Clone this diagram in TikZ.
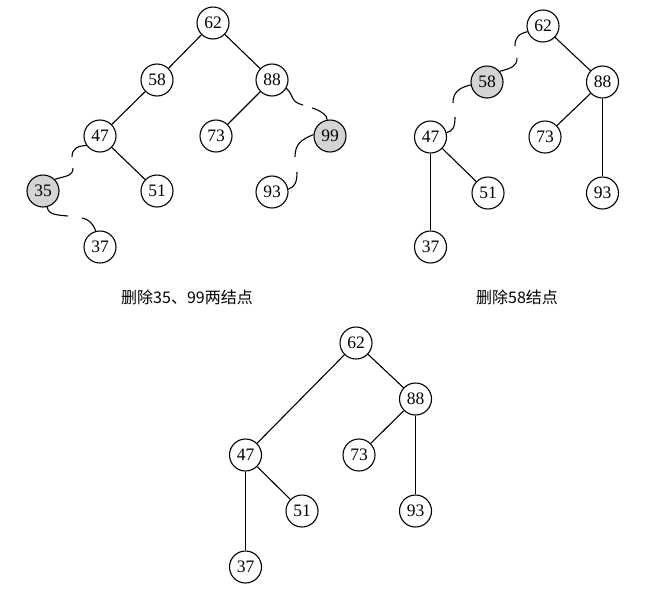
\documentclass[tikz,border=0pt]{standalone}
\usepackage{fontspec}
\setmainfont{Liberation Serif}
\newfontfamily\cjk{Noto Sans CJK SC}
\begin{document}
\begin{tikzpicture}[x=1pt,y=-1pt,
  nd/.style={circle,draw,line width=1.1pt,minimum size=32pt,inner sep=0pt,font=\fontsize{17.5}{17.5}\selectfont,fill=white},
  del/.style={nd,fill=black!17},
  ed/.style={line width=1.1pt},
  captext/.style={font=\cjk\fontsize{16}{16}\selectfont}]
\useasboundingbox (0,0) rectangle (655,595);
% ---------- top-left tree ----------
\node[nd]  (a62) at (213,23) {62};
\node[nd]  (a58) at (157,80) {58};
\node[nd]  (a88) at (272,80) {88};
\node[nd]  (a47) at (100,136) {47};
\node[nd]  (a73) at (216,136) {73};
\node[del] (a99) at (330,136) {99};
\node[del] (a35) at (43,191) {35};
\node[nd]  (a51) at (157,191) {51};
\node[nd]  (a93) at (272,192) {93};
\node[nd]  (a37) at (100,247) {37};
\draw[ed] (a62) -- (a58);
\draw[ed] (a62) -- (a88);
\draw[ed] (a58) -- (a47);
\draw[ed] (a88) -- (a73);
\draw[ed] (a47) -- (a51);
% broken links
\draw[ed] (a47.215) .. controls (78,146) and (72,148) .. (72,157);
\draw[ed] (73,168) .. controls (73,176) and (66,176) .. (a35.45);
\draw[ed] (a35.-75) .. controls (48,214) and (55,215) .. (68,216);
\draw[ed] (82,218) .. controls (88,219) and (93,223) .. (a37.105);
\draw[ed] (a88.-30) .. controls (294,95) and (290,102) .. (303,105);
\draw[ed] (312,108) .. controls (320,110) and (328,116) .. (a99.100);
\draw[ed] (a99.175) .. controls (300,140) and (295,145) .. (295,157);
\draw[ed] (297,172) .. controls (297,182) and (295,187) .. (a93.10);
\node[captext] (capa) at (187,297) {删除35、99两结点};
% ---------- top-right tree ----------
\node[nd]  (b62) at (543,26) {62};
\node[del] (b58) at (487,82) {58};
\node[nd]  (b88) at (602.5,82) {88};
\node[nd]  (b47) at (430.5,137) {47};
\node[nd]  (b73) at (545,137) {73};
\node[nd]  (b51) at (488,193) {51};
\node[nd]  (b93) at (602.5,193) {93};
\node[nd]  (b37) at (430.5,247) {37};
\draw[ed] (b62) -- (b88);
\draw[ed] (b88) -- (b73);
\draw[ed] (b88) -- (b93);
\draw[ed] (b47) -- (b51);
\draw[ed] (b47) -- (b37);
\draw[ed] (b62.200) .. controls (518,34) and (515,38) .. (515,46);
\draw[ed] (517,58) .. controls (517,66) and (512,68) .. (b58.40);
\draw[ed] (b58.190) .. controls (458,88) and (453,93) .. (453,103);
\draw[ed] (455,117) .. controls (455,127) and (453,131) .. (b47.15);
\node[captext] (capb) at (517,297) {删除58结点};
% ---------- bottom tree ----------
\node[nd] (c62) at (356,343) {62};
\node[nd] (c88) at (415.5,399) {88};
\node[nd] (c47) at (245.5,455) {47};
\node[nd] (c73) at (359,455) {73};
\node[nd] (c51) at (302,511) {51};
\node[nd] (c93) at (415.5,511) {93};
\node[nd] (c37) at (245.5,567) {37};
\draw[ed] (c62) -- (c47);
\draw[ed] (c62) -- (c88);
\draw[ed] (c88) -- (c73);
\draw[ed] (c88) -- (c93);
\draw[ed] (c47) -- (c51);
\draw[ed] (c47) -- (c37);
\end{tikzpicture}
\end{document}
